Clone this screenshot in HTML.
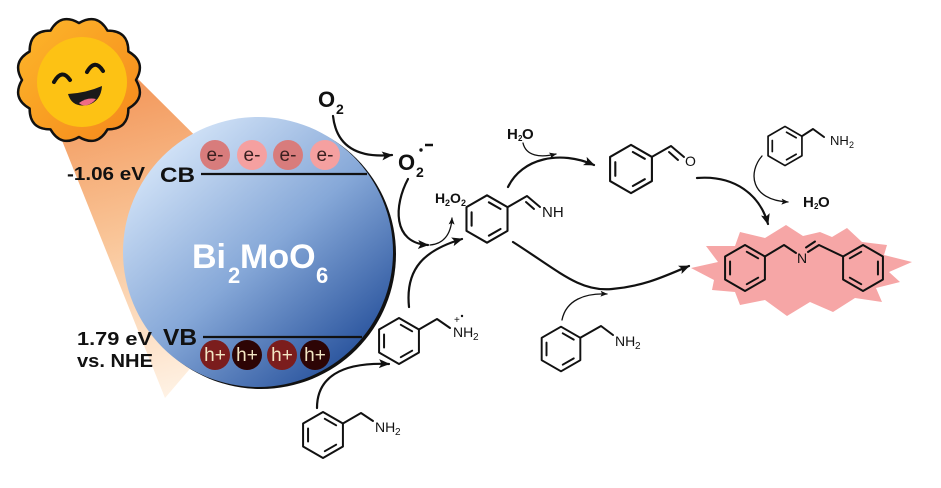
<!DOCTYPE html>
<html><head><meta charset="utf-8"><style>
html,body{margin:0;padding:0;background:#fff;}
svg{display:block;}
text{font-family:"Liberation Sans",Arial,sans-serif;fill:#111;}
</style></head><body>
<svg width="941" height="488" viewBox="0 0 941 488" xmlns="http://www.w3.org/2000/svg">
<defs>
 <linearGradient id="beam" gradientUnits="userSpaceOnUse" x1="90" y1="100" x2="170" y2="400">
  <stop offset="0" stop-color="#f39a5e"/>
  <stop offset="0.45" stop-color="#f9c598"/>
  <stop offset="1" stop-color="#fff3e6"/>
 </linearGradient>
 <linearGradient id="ball" gradientUnits="userSpaceOnUse" x1="160" y1="140" x2="360" y2="370">
  <stop offset="0" stop-color="#d6e6f9"/>
  <stop offset="0.5" stop-color="#86a8d8"/>
  <stop offset="1" stop-color="#214c98"/>
 </linearGradient>
 <linearGradient id="sunG" x1="0" y1="0" x2="1" y2="1">
  <stop offset="0" stop-color="#fdb72a"/>
  <stop offset="1" stop-color="#f5871c"/>
 </linearGradient>
 <marker id="ah" markerUnits="userSpaceOnUse" markerWidth="12" markerHeight="10" refX="10" refY="4.5" orient="auto" viewBox="0 0 12 9">
  <path d="M0,0 L11,4.5 L0,9 L2.5,4.5 Z" fill="#111"/>
 </marker>
 <marker id="as" markerUnits="userSpaceOnUse" markerWidth="8" markerHeight="7" refX="6.5" refY="3" orient="auto" viewBox="0 0 8 6">
  <path d="M0,0 L7,3 L0,6 L1.5,3 Z" fill="#111"/>
 </marker>
 <g id="ring">
  <path d="M0,-23 L19.92,-11.5 L19.92,11.5 L0,23 L-19.92,11.5 L-19.92,-11.5 Z" fill="none" stroke="#111" stroke-width="2" stroke-linejoin="round"/>
  <path d="M1.79,-16.19 L13.15,-9.69 M13.15,9.69 L1.79,16.19 M-14.94,6.55 L-14.94,-6.55" stroke="#111" stroke-width="2" fill="none" stroke-linecap="round"/>
 </g>
</defs>

<!-- light beam -->
<polygon points="57,128 137,78 300,240 165,398" fill="url(#beam)"/>

<!-- Bi2MoO6 ball -->
<circle cx="261" cy="254" r="135" fill="#111"/>
<circle cx="258" cy="252" r="135" fill="url(#ball)"/>

<!-- sun -->
<path d="M136,80 Q146.61,98.12 128.36,108.5 Q128.5,129.5 107.5,129.36 Q97.12,147.61 79,137 Q60.88,147.61 50.5,129.36 Q29.5,129.5 29.64,108.5 Q11.39,98.12 22,80 Q11.39,61.88 29.64,51.5 Q29.5,30.5 50.5,30.64 Q60.88,12.39 79,23 Q97.12,12.39 107.5,30.64 Q128.5,30.5 128.36,51.5 Q146.61,61.88 136,80 Z" fill="url(#sunG)" stroke="#111" stroke-width="2.5" stroke-linejoin="round"/>
<circle cx="82" cy="82" r="45" fill="#fdc214"/>
<path d="M54,82 Q62,68 70,80" fill="none" stroke="#111" stroke-width="4" stroke-linecap="round"/>
<path d="M87,72 Q95,58 103,71" fill="none" stroke="#111" stroke-width="4" stroke-linecap="round"/>
<path d="M68,94 Q86,93 102,86 Q101,101 88,105 Q72,108 68,94 Z" fill="#1a1a1a"/>
<path d="M79,103 Q87,97 96,99 Q92,104 86,105.5 Q81,105.5 79,103 Z" fill="#ef6b86"/>

<!-- band labels -->
<text x="67" y="180" font-size="18" font-weight="bold" textLength="78" lengthAdjust="spacingAndGlyphs">-1.06 eV</text>
<text x="160" y="182" font-size="21" font-weight="bold" textLength="35" lengthAdjust="spacingAndGlyphs">CB</text>
<line x1="201" y1="174" x2="367" y2="174" stroke="#111" stroke-width="2.2"/>
<text x="77" y="345" font-size="18" font-weight="bold" textLength="75" lengthAdjust="spacingAndGlyphs">1.79 eV</text>
<text x="77" y="367" font-size="18" font-weight="bold" textLength="76" lengthAdjust="spacingAndGlyphs">vs. NHE</text>
<text x="163" y="345" font-size="23" font-weight="bold" textLength="34" lengthAdjust="spacingAndGlyphs">VB</text>
<line x1="203" y1="337" x2="362" y2="337" stroke="#111" stroke-width="2.2"/>

<!-- electrons -->
<circle cx="215" cy="155" r="15" fill="#d87c7c"/>
<circle cx="252" cy="155" r="15" fill="#f5a0a0"/>
<circle cx="288" cy="155" r="15" fill="#d87c7c"/>
<circle cx="325" cy="155" r="15" fill="#f5a0a0"/>
<g font-size="19" text-anchor="middle">
 <text x="215" y="161" style="fill:#3a2020">e-</text>
 <text x="252" y="161" style="fill:#3a2020">e-</text>
 <text x="288" y="161" style="fill:#3a2020">e-</text>
 <text x="325" y="161" style="fill:#3a2020">e-</text>
</g>
<!-- holes -->
<circle cx="215" cy="355" r="15" fill="#7b1d1d"/>
<circle cx="247" cy="355" r="15" fill="#2d0505"/>
<circle cx="282" cy="355" r="15" fill="#7b1d1d"/>
<circle cx="315" cy="355" r="15" fill="#2d0505"/>
<g font-size="19" text-anchor="middle">
 <text x="215" y="361" style="fill:#f3e6c4">h+</text>
 <text x="247" y="361" style="fill:#f3e6c4">h+</text>
 <text x="282" y="361" style="fill:#f3e6c4">h+</text>
 <text x="315" y="361" style="fill:#f3e6c4">h+</text>
</g>

<!-- Bi2MoO6 -->
<text x="192" y="268" font-size="34" font-weight="bold" style="fill:#fff">Bi</text>
<text x="228" y="283" font-size="22" font-weight="bold" style="fill:#fff">2</text>
<text x="240" y="268" font-size="34" font-weight="bold" style="fill:#fff">MoO</text>
<text x="316" y="283" font-size="22" font-weight="bold" style="fill:#fff">6</text>

<!-- O2 and superoxide -->
<text x="318" y="107" font-size="22" font-weight="bold">O</text>
<text x="336" y="114" font-size="14" font-weight="bold">2</text>
<text x="398" y="170" font-size="22" font-weight="bold">O</text>
<text x="416" y="177" font-size="14" font-weight="bold">2</text>
<circle cx="421" cy="150" r="1.7" fill="#111"/>
<line x1="425" y1="145" x2="433" y2="145" stroke="#111" stroke-width="2.5"/>

<!-- H2O2 -->
<text x="435" y="203" font-size="14" font-weight="bold">H</text>
<text x="445" y="206" font-size="9" font-weight="bold">2</text>
<text x="450" y="203" font-size="14" font-weight="bold">O</text>
<text x="461" y="206" font-size="9" font-weight="bold">2</text>

<!-- H2O top -->
<text x="507" y="139" font-size="15" font-weight="bold">H</text>
<text x="518" y="141" font-size="8" font-weight="bold">2</text>
<text x="522" y="139" font-size="15" font-weight="bold">O</text>

<!-- H2O right -->
<text x="803" y="207" font-size="15" font-weight="bold">H</text>
<text x="814" y="209" font-size="8" font-weight="bold">2</text>
<text x="818" y="207" font-size="15" font-weight="bold">O</text>

<!-- starburst -->
<polygon fill="#f6a6a6" points="691,268 718,262 706,246 735,246 740,232 765,238 786,225 803,236 820,232 832,237 847,228 862,242 887,245 884,255 912,262 889,272 900,282 876,288 882,302 855,298 833,312 810,302 787,316 765,300 740,305 735,292 712,290 714,280"/>

<!-- molecules -->
<g stroke="#111" stroke-width="2" fill="none" stroke-linejoin="round" stroke-linecap="round">
 <polyline points="342.9,423.5 361,413 373,421"/>
 <polyline points="418.9,329.5 437,319 450,328"/>
 <polyline points="507.5,207.2 527,196 540,207"/>
 <line x1="526" y1="202" x2="534" y2="209"/>
 <polyline points="651.9,156.9 671,146 684,157"/>
 <line x1="669" y1="152" x2="678" y2="160"/>
 <polyline points="580.3,337.8 601,326 613,335"/>
 <polyline points="801.9,136.2 813,129 824,137"/>
 <polyline points="764.9,256.5 784,245 796,253"/>
 <polyline points="808,252 819,245 843.1,256.5"/>
 <line x1="806" y1="247.5" x2="815" y2="241.5"/>
</g>
<use href="#ring" transform="translate(323,435)"/>
<use href="#ring" transform="translate(399,341)"/>
<use href="#ring" transform="translate(487,219) scale(1.03)"/>
<use href="#ring" transform="translate(631,169) scale(1.05)"/>
<use href="#ring" transform="translate(561,349) scale(0.97)"/>
<use href="#ring" transform="translate(785,146) scale(0.85)"/>
<use href="#ring" transform="translate(745,268)"/>
<use href="#ring" transform="translate(863,268) scale(-1,1)"/>

<!-- atom labels -->
<text x="375" y="432" font-size="14">NH</text>
<text x="395" y="435" font-size="10">2</text>
<text x="453" y="337" font-size="14">NH</text>
<text x="473" y="340" font-size="10">2</text>
<text x="454" y="323" font-size="10">+</text>
<circle cx="462" cy="316" r="1.2" fill="#111"/>
<text x="542" y="217" font-size="15">NH</text>
<text x="685" y="166" font-size="14">O</text>
<text x="615" y="346" font-size="14">NH</text>
<text x="635" y="349" font-size="10">2</text>
<text x="830" y="145" font-size="13">NH</text>
<text x="849" y="148" font-size="9">2</text>
<text x="797" y="263" font-size="14">N</text>

<!-- arrows -->
<g fill="none" stroke="#111" stroke-width="2.2" stroke-linecap="round">
 <path d="M333,116 Q338,160 392,155" marker-end="url(#ah)"/>
 <path d="M408,179 C394,205 392,243 428,245" marker-end="url(#ah)"/>
 <path d="M409,307 C405,268 425,250 462,239" marker-end="url(#ah)"/>
 <path d="M317,408 C317,378 340,362 389,364" marker-end="url(#ah)"/>
 <path d="M508,187 C522,158 560,150 594,165" marker-end="url(#ah)"/>
 <path d="M697,178 C735,175 760,195 768,224" marker-end="url(#ah)"/>
 <path d="M513,242 C560,272 580,292 612,289 C645,286 665,276 689,266" marker-end="url(#ah)"/>
</g>
<g fill="none" stroke="#111" stroke-width="1.3" stroke-linecap="round">
 <path d="M430,245 C443,244 451,235 452,218" marker-end="url(#as)"/>
 <path d="M523,143 C526,156 540,158 556,154" marker-end="url(#as)"/>
 <path d="M762,156 C748,172 750,200 788,202" marker-end="url(#as)"/>
 <path d="M562,320 C566,300 585,293 607,294" marker-end="url(#as)"/>
</g>
</svg>
</body></html>
